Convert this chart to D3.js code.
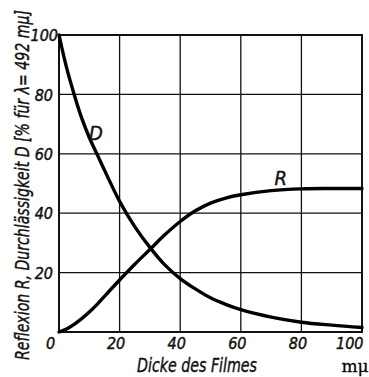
<!DOCTYPE html>
<html>
<head>
<meta charset="utf-8">
<script src="https://cdn.jsdelivr.net/npm/d3@7"></script>
<style>
  html, body { margin: 0; padding: 0; background: #fff; }
  svg { display: block; }
  .tick-label { font-family: "Liberation Sans Narrow", "DejaVu Sans Condensed", sans-serif; font-style: italic; font-size: 16px; fill: #111; stroke: #111; stroke-width: 0.45px; }
  .title { font-family: "Liberation Sans Narrow", "DejaVu Sans Condensed", sans-serif; font-style: italic; font-size: 20px; fill: #111; stroke: #111; stroke-width: 0.4px; }
</style>
</head>
<body>
<script>
// Film thickness in mμ
const thickness = [0, 2.5, 5, 7.5, 10, 12.5, 15, 20, 25, 30, 35, 40, 45, 50, 55, 60, 70, 80, 90, 100];
// Transmission D in %
const transmission = [100, 89, 80, 72, 65.5, 60, 54.5, 44, 35.5, 28.5, 22.5, 18, 14.5, 11.5, 9.3, 7.5, 5, 3.3, 2.3, 1.5];
// Reflection R in %
const reflection = [0, 1, 2.6, 4.5, 6.7, 9.2, 12, 17.5, 22.8, 27.8, 32.8, 37.2, 40.8, 43.4, 45.1, 46.2, 47.6, 48.2, 48.3, 48.3];

const xTicks = [0, 20, 40, 60, 80, 100];
const yTicks = [0, 20, 40, 60, 80, 100];
const xTitle = "Dicke des Filmes";
const xUnit = "mμ";
const yTitle = "Reflexion R, Durchlässigkeit D [% für λ= 492 mμ]";

const W = 369, H = 377;
const svg = d3.select("body").append("svg").attr("width", W).attr("height", H);

const x = d3.scaleLinear().domain([0, 100]).range([59, 362]);
const y = d3.scaleLinear().domain([0, 100]).range([332, 35]);

// grid
const grid = svg.append("g").attr("stroke", "#111").attr("stroke-width", 1.3);
grid.selectAll("line.v").data(xTicks.slice(1, -1)).join("line")
  .attr("x1", d => x(d)).attr("x2", d => x(d)).attr("y1", y(0)).attr("y2", y(100));
grid.selectAll("line.h").data(yTicks.slice(1, -1)).join("line")
  .attr("y1", d => y(d)).attr("y2", d => y(d)).attr("x1", x(0)).attr("x2", x(100));

// frame
svg.append("rect")
  .attr("x", x(0)).attr("y", y(100))
  .attr("width", x(100) - x(0)).attr("height", y(0) - y(100))
  .attr("fill", "none").attr("stroke", "#111").attr("stroke-width", 2);

// axis tick labels
const xAxis = d3.axisBottom(x).tickValues(xTicks).tickSize(0).tickPadding(0);
const gx = svg.append("g").attr("transform", `translate(0,${y(0)})`).call(xAxis);
gx.select(".domain").remove();
gx.selectAll("text").attr("class", "tick-label")
  .attr("dy", null).attr("y", 17)
  .attr("dx", d => d === 0 ? -9 : (d === 100 ? 1 : -4))
  .attr("text-anchor", d => d === 100 ? "end" : "middle");

const yAxis = d3.axisLeft(y).tickValues(yTicks.slice(1)).tickSize(0).tickPadding(0);
const gy = svg.append("g").attr("transform", `translate(${x(0)},0)`).call(yAxis);
gy.select(".domain").remove();
gy.selectAll("text").attr("class", "tick-label")
  .attr("x", d => d === 100 ? -1 : -6).attr("dy", "0.35em").attr("text-anchor", "end");

// curves
const line = d3.line().curve(d3.curveCatmullRom.alpha(0.5));
const pts = vals => thickness.map((t, i) => [x(t), y(vals[i])]);

svg.append("path").attr("d", line(pts(transmission)))
  .attr("fill", "none").attr("stroke", "#000").attr("stroke-width", 3.4).attr("stroke-linecap", "round");
svg.append("path").attr("d", line(pts(reflection)))
  .attr("fill", "none").attr("stroke", "#000").attr("stroke-width", 3.4).attr("stroke-linecap", "round");

// curve labels
svg.append("text").attr("class", "title").text("D")
  .attr("x", x(12.2)).attr("y", 140).attr("text-anchor", "middle");
svg.append("text").attr("class", "title").text("R")
  .attr("x", x(73.2)).attr("y", 185).attr("text-anchor", "middle");

// axis titles
svg.append("text").attr("class", "title").text(xTitle)
  .attr("x", 197).attr("y", 372).attr("text-anchor", "middle").style("font-size", "19px")
  .attr("textLength", 120).attr("lengthAdjust", "spacingAndGlyphs");
svg.append("text").text(xUnit)
  .attr("x", 355).attr("y", 372).attr("text-anchor", "middle")
  .attr("font-family", "DejaVu Serif, serif").attr("font-size", "17px")
  .attr("stroke", "#111").attr("stroke-width", 0.3);

// vertical title, squeezed horizontally so it fits the plot height
const yTitleEl = svg.append("text").attr("class", "title").text(yTitle)
  .attr("text-anchor", "middle");
const natural = yTitleEl.node().getComputedTextLength();
const squeeze = Math.min(1, 350 / natural);
yTitleEl.attr("transform", `translate(29,185) rotate(-90) scale(${squeeze},1)`);
</script>
</body>
</html>
